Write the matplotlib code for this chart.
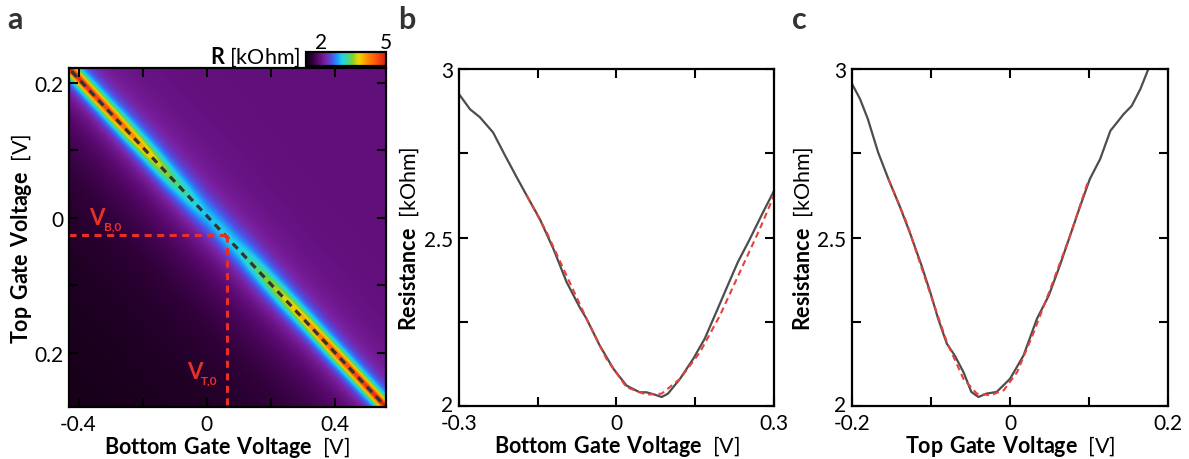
import numpy as np
import matplotlib
matplotlib.use('Agg')
import matplotlib.pyplot as plt
from matplotlib.colors import LinearSegmentedColormap
from matplotlib.transforms import ScaledTranslation

plt.rcParams['font.family'] = ['Lato', 'DejaVu Sans']
plt.rcParams['mathtext.fontset'] = 'custom'
plt.rcParams['mathtext.rm'] = 'Lato'
plt.rcParams['mathtext.bf'] = 'Lato:bold'

# --- panel a: ridge of the resistance map ---
ridge_vb = [-0.43, -0.3, -0.2, -0.1, 0.0, 0.1, 0.2, 0.3, 0.4, 0.56]
ridge_vt = [0.221, 0.155, 0.105, 0.054, 0.004, -0.047, -0.098, -0.148, -0.199, -0.280]
ridge_peak = [5.0, 4.6, 4.0, 3.3, 2.9, 3.0, 3.5, 4.0, 4.5, 5.0]     # kOhm
ridge_width = [0.011, 0.013, 0.016, 0.021, 0.025, 0.024, 0.019, 0.015, 0.013, 0.011]
bg_upper = 1.95     # kOhm, right of the ridge
bg_lower = 1.38     # kOhm, far lower-left corner
bg_decay = 0.15     # V
halo_amp = 0.25     # kOhm, faint glow either side of the ridge
halo_width = 0.05   # V

dirac_line_vb = [-0.422, 0.55]
dirac_line_vt = [0.217, -0.275]
vb0 = 0.0625
vt0 = -0.025

# --- panel b: R vs bottom gate ---
b_x = [-0.3, -0.279, -0.26, -0.235, -0.212, -0.19, -0.171, -0.146, -0.12, -0.095, -0.07, -0.057,
       -0.032, -0.006, 0.019, 0.044, 0.057, 0.073, 0.086, 0.098, 0.121, 0.146, 0.168, 0.19,
       0.209, 0.231, 0.254, 0.279, 0.3]
b_y = [2.926, 2.881, 2.857, 2.812, 2.743, 2.679, 2.625, 2.555, 2.466, 2.368, 2.293, 2.259,
       2.18, 2.111, 2.061, 2.041, 2.041, 2.034, 2.027, 2.037, 2.081, 2.14, 2.2, 2.279,
       2.348, 2.427, 2.496, 2.575, 2.639]
b_fit_x = [-0.171, -0.133, -0.095, -0.057, -0.019, 0.019, 0.057, 0.086, 0.121, 0.159, 0.197,
           0.235, 0.273, 0.3]
b_fit_y = [2.625, 2.516, 2.387, 2.259, 2.14, 2.056, 2.034, 2.037, 2.081, 2.16, 2.269,
           2.398, 2.526, 2.625]

# --- panel c: R vs top gate ---
c_x = [-0.2, -0.19, -0.18, -0.167, -0.154, -0.14, -0.127, -0.112, -0.101, -0.091, -0.08, -0.07,
       -0.059, -0.049, -0.04, -0.03, -0.017, 0.0, 0.017, 0.034, 0.049, 0.063, 0.076, 0.089,
       0.101, 0.114, 0.127, 0.144, 0.154, 0.165, 0.175]
c_y = [2.956, 2.912, 2.852, 2.753, 2.674, 2.595, 2.516, 2.417, 2.338, 2.259, 2.185, 2.15,
       2.101, 2.042, 2.027, 2.037, 2.042, 2.081, 2.15, 2.259, 2.328, 2.417, 2.506, 2.595,
       2.674, 2.733, 2.817, 2.867, 2.891, 2.941, 3.0]
c_fit_x = [-0.154, -0.131, -0.106, -0.08, -0.059, -0.042, -0.025, -0.008, 0.009, 0.03, 0.051,
           0.076, 0.099]
c_fit_y = [2.674, 2.545, 2.368, 2.19, 2.081, 2.037, 2.032, 2.047, 2.101, 2.219, 2.348,
           2.506, 2.669]

cmap = LinearSegmentedColormap.from_list('rmap', [
    (0.00, '#0c000c'), (0.07, '#2c0034'), (0.15, '#58086c'), (0.24, '#7a20a0'),
    (0.32, '#5050e8'), (0.38, '#2090f8'), (0.45, '#20d0f0'), (0.52, '#40d890'),
    (0.58, '#80d030'), (0.66, '#f0d800'), (0.76, '#ff9000'), (0.88, '#ff5010'),
    (1.00, '#d02010')])

fig = plt.figure(figsize=(11.89, 4.6), dpi=100)

TICK_FS = 15
LAB_FS = 15.5


def style(ax):
    for s in ax.spines.values():
        s.set_linewidth(1.6)
    ax.tick_params(direction='in', length=6.5, width=1.5, top=True, right=True,
                   labelsize=TICK_FS)
    ax.tick_params(axis='x', pad=5)
    ax.tick_params(axis='y', pad=4)


def lift_bottom_label(ax):
    # nudge the lowest y tick label up a little, as in the original figure
    lab = ax.get_yticklabels()[0]
    lab.set_transform(lab.get_transform() + ScaledTranslation(0, 2.5 / 72, fig.dpi_scale_trans))


# ---------------- panel a ----------------
axa = fig.add_axes([0.058, 0.113, 0.2666, 0.737])
vb = np.linspace(-0.43, 0.56, 500)
vt = np.linspace(-0.28, 0.222, 500)
VB, VT = np.meshgrid(vb, vt)
rv = np.interp(VB, ridge_vb, ridge_vt)
rp = np.interp(VB, ridge_vb, ridge_peak)
rw = np.interp(VB, ridge_vb, ridge_width)
d = VT - rv
bg = np.where(d >= 0, bg_upper,
              bg_lower + (bg_upper - bg_lower) * np.exp(np.minimum(d, 0) / bg_decay))
bg = bg + halo_amp * np.exp(-np.abs(d) / halo_width)
R = bg + (rp - bg) / (1 + (d / rw) ** 2)
im = axa.imshow(R, extent=[vb[0], vb[-1], vt[0], vt[-1]], origin='lower', aspect='auto',
                cmap=cmap, vmin=1.3, vmax=5.0, interpolation='bilinear')
axa.plot(dirac_line_vb, dirac_line_vt, color='#333333', lw=2.3, dashes=(2.3, 1.8))
axa.plot([vb[0], vb0], [vt0, vt0], color='#e8302a', lw=2.2, dashes=(2.3, 1.8))
axa.plot([vb0, vb0], [vt0, vt[0]], color='#e8302a', lw=2.2, dashes=(2.3, 1.8))
axa.text(-0.366, -0.009, 'V', color='#e8302a', fontsize=16, fontweight='bold')
axa.text(-0.322, -0.017, 'B,0', color='#e8302a', fontsize=8.5, fontweight='bold')
axa.text(-0.0625, -0.237, 'V', color='#e8302a', fontsize=16, fontweight='bold')
axa.text(-0.018, -0.245, 'T,0', color='#e8302a', fontsize=8.5, fontweight='bold')
axa.set_xlim(vb[0], vb[-1])
axa.set_ylim(vt[0], vt[-1])
axa.set_xticks([-0.4, -0.2, 0, 0.2, 0.4])
axa.set_xticklabels(['-0.4', '', '0', '', '0.4'])
axa.set_yticks([-0.2, -0.1, 0, 0.1, 0.2])
axa.set_yticklabels(['0.2', '', '0', '', '0.2'])
style(axa)
axa.set_xlabel(r'$\mathbf{Bottom\ Gate\ Voltage}$  [V]', fontsize=LAB_FS, labelpad=0)
axa.set_ylabel(r'$\mathbf{Top\ Gate\ Voltage}$  [V]', fontsize=LAB_FS, labelpad=0)

cax = fig.add_axes([0.2574, 0.8543, 0.0673, 0.0304])
cb = fig.colorbar(im, cax=cax, orientation='horizontal')
cb.set_ticks([2, 5])
cb.outline.set_linewidth(1.6)
cax.tick_params(top=True, bottom=False, labeltop=True, labelbottom=False, length=0,
                labelsize=TICK_FS, pad=0)
fig.text(0.2525, 0.862, r'$\mathbf{R}$ [kOhm]', fontsize=LAB_FS, ha='right', va='baseline')

# ---------------- panel b ----------------
axb = fig.add_axes([0.386, 0.115, 0.265, 0.7326])
axb.plot(b_x, b_y, color='#4d4d4d', lw=1.6)
axb.plot(b_fit_x, b_fit_y, color='#e8403a', lw=1.5, dashes=(3, 2))
axb.set_xlim(-0.3, 0.3)
axb.set_ylim(2, 3)
axb.set_xticks([-0.3, -0.15, 0, 0.15, 0.3])
axb.set_xticklabels(['-0.3', '', '0', '', '0.3'])
axb.set_yticks([2, 2.25, 2.5, 2.75, 3])
axb.set_yticklabels(['2', '', '2.5', '', '3'])
style(axb)
lift_bottom_label(axb)
axb.set_xlabel(r'$\mathbf{Bottom\ Gate\ Voltage}$  [V]', fontsize=LAB_FS, labelpad=0)
axb.set_ylabel(r'$\mathbf{Resistance}$  [kOhm]', fontsize=LAB_FS, labelpad=2)

# ---------------- panel c ----------------
axc = fig.add_axes([0.7166, 0.115, 0.2658, 0.7326])
axc.plot(c_x, c_y, color='#4d4d4d', lw=1.6)
axc.plot(c_fit_x, c_fit_y, color='#e8403a', lw=1.5, dashes=(3, 2))
axc.set_xlim(-0.2, 0.2)
axc.set_ylim(2, 3)
axc.set_xticks([-0.2, -0.1, 0, 0.1, 0.2])
axc.set_xticklabels(['-0.2', '', '0', '', '0.2'])
axc.set_yticks([2, 2.25, 2.5, 2.75, 3])
axc.set_yticklabels(['2', '', '2.5', '', '3'])
style(axc)
lift_bottom_label(axc)
axc.set_xlabel(r'$\mathbf{Top\ Gate\ Voltage}$  [V]', fontsize=LAB_FS, labelpad=0)
axc.set_ylabel(r'$\mathbf{Resistance}$  [kOhm]', fontsize=LAB_FS, labelpad=2)

# panel letters
for x, letter in [(0.006, 'a'), (0.335, 'b'), (0.666, 'c')]:
    fig.text(x, 0.937, letter, fontsize=22, fontweight='bold', color='#333333', va='baseline')

fig.savefig('out.png', dpi=100)
